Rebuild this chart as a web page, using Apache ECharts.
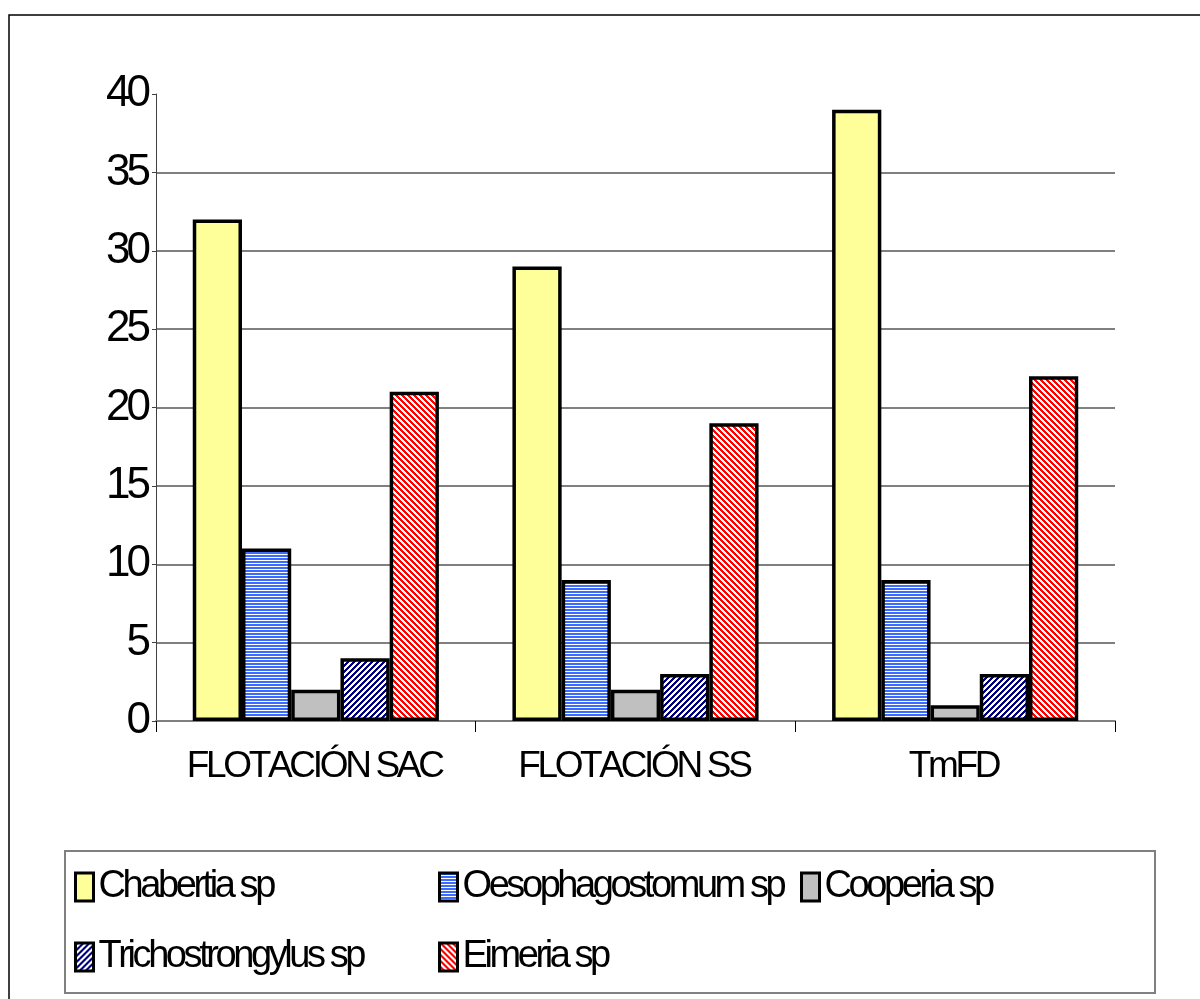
<!DOCTYPE html>
<html>
<head>
<meta charset="utf-8">
<script src="https://cdn.jsdelivr.net/npm/echarts@6/dist/echarts.min.js"></script>
<style>
html,body{margin:0;padding:0;background:#fff;}
#chart{width:1200px;height:999px;}
</style>
</head>
<body>
<div id="chart"></div>
<script>
const categories = ['FLOTACIÓN SAC', 'FLOTACIÓN SS', 'TmFD'];
const seriesNames = ['Chabertia sp', 'Oesophagostomum sp', 'Cooperia sp', 'Trichostrongylus sp', 'Eimeria sp'];
const chabertia = [32, 29, 39];
const oesophagostomum = [11, 9, 9];
const cooperia = [2, 2, 1];
const trichostrongylus = [4, 3, 3];
const eimeria = [21, 19, 22];
const yTicks = [0, 5, 10, 15, 20, 25, 30, 35, 40];

// Tight letter tracking like the original (applies to large text only)
(function () {
  const proto = CanvasRenderingContext2D.prototype;
  const origMeasure = proto.measureText;
  const origFill = proto.fillText;
  function track(ctx) {
    const m = /(\d+(?:\.\d+)?)px/.exec(ctx.font);
    const s = m ? parseFloat(m[1]) : 12;
    return s >= 20 ? -0.09 * s : 0;
  }
  function charWidths(ctx, chars) {
    return chars.map(c => origMeasure.call(ctx, c).width);
  }
  proto.measureText = function (text) {
    const sp = track(this);
    const m = origMeasure.call(this, text);
    const chars = Array.from(String(text));
    if (!sp || chars.length < 2) return m;
    const ws = charWidths(this, chars);
    const w = ws.reduce((a, b) => a + b, 0) + (chars.length - 1) * sp;
    return {
      width: w,
      actualBoundingBoxAscent: m.actualBoundingBoxAscent,
      actualBoundingBoxDescent: m.actualBoundingBoxDescent,
      actualBoundingBoxLeft: m.actualBoundingBoxLeft,
      actualBoundingBoxRight: w,
      fontBoundingBoxAscent: m.fontBoundingBoxAscent,
      fontBoundingBoxDescent: m.fontBoundingBoxDescent
    };
  };
  proto.fillText = function (text, x, y, maxW) {
    const sp = track(this);
    const chars = Array.from(String(text));
    if (!sp || chars.length < 2) return origFill.call(this, text, x, y);
    const ws = charWidths(this, chars);
    const W = ws.reduce((a, b) => a + b, 0) + (chars.length - 1) * sp;
    const align = this.textAlign;
    let sx = x;
    if (align === 'center') sx = x - W / 2;
    else if (align === 'right' || align === 'end') sx = x - W;
    this.textAlign = 'left';
    let cx = sx;
    for (let i = 0; i < chars.length; i++) {
      origFill.call(this, chars[i], cx, y);
      cx += ws[i] + sp;
    }
    this.textAlign = align;
  };
})();

function makePattern(w, h, fn) {
  const c = document.createElement('canvas');
  c.width = w; c.height = h;
  const ctx = c.getContext('2d');
  const img = ctx.createImageData(w, h);
  for (let y = 0; y < h; y++) {
    for (let x = 0; x < w; x++) {
      const col = fn(x, y);
      const i = (y * w + x) * 4;
      img.data[i] = col[0]; img.data[i + 1] = col[1]; img.data[i + 2] = col[2]; img.data[i + 3] = 255;
    }
  }
  ctx.putImageData(img, 0, 0);
  return c;
}
const WHITE = [255, 255, 255];
const bluePat = makePattern(3, 3, (x, y) => (y % 3 < 2 ? [61, 107, 255] : WHITE));
const navyPat = makePattern(6, 6, (x, y) => ((x + y) % 6 < 3 ? [0, 0, 128] : WHITE));
const redPat = makePattern(6, 6, (x, y) => ((x - y + 60) % 6 < 3 ? [255, 0, 0] : WHITE));

const fills = [
  '#FFFF99',
  { image: bluePat, repeat: 'repeat' },
  '#C0C0C0',
  { image: navyPat, repeat: 'repeat' },
  { image: redPat, repeat: 'repeat' }
];
const values = [chabertia, oesophagostomum, cooperia, trichostrongylus, eimeria];

const FONT = '"Liberation Sans", Arial, sans-serif';

const series = seriesNames.map((name, i) => ({
  name: name,
  type: 'bar',
  data: values[i],
  barGap: 0,
  barCategoryGap: '23%',
  itemStyle: { color: fills[i], borderColor: '#000', borderWidth: 3.5 },
  emphasis: { disabled: true },
  animation: false
}));

const legendPos = [
  { left: 74, top: 868 },
  { left: 438, top: 868 },
  { left: 800, top: 868 },
  { left: 74, top: 938 },
  { left: 438, top: 938 }
];
const legends = seriesNames.map((name, i) => ({
  data: [name],
  left: legendPos[i].left,
  top: legendPos[i].top,
  orient: 'horizontal',
  padding: 0,
  icon: 'rect',
  itemWidth: 18,
  itemHeight: 28,
  itemStyle: { borderColor: '#000', borderWidth: 3 },
  selectedMode: false,
  textStyle: { fontSize: 38, fontFamily: FONT, color: '#000' }
}));

const splitColors = yTicks.map(v => (v === 40 ? 'rgba(0,0,0,0)' : '#808080'));

const option = {
  backgroundColor: '#fff',
  animation: false,
  grid: { left: 156, right: 85, top: 94, bottom: 278, containLabel: false },
  xAxis: {
    type: 'category',
    data: categories,
    axisLine: { show: true, lineStyle: { color: '#808080', width: 2 } },
    axisTick: { show: true, length: 11, lineStyle: { color: '#000', width: 1 } },
    axisLabel: { interval: 0, fontSize: 37, fontFamily: FONT, color: '#000', margin: 27 }
  },
  yAxis: {
    type: 'value',
    min: 0,
    max: 40,
    interval: 5,
    axisLine: { show: true, lineStyle: { color: '#404040', width: 1 } },
    axisTick: { show: true, length: 4, lineStyle: { color: '#404040', width: 1 } },
    axisLabel: { fontSize: 44, fontFamily: FONT, color: '#000', margin: 5 },
    splitLine: { show: true, lineStyle: { color: splitColors, width: 2 } }
  },
  legend: legends,
  graphic: [
    { type: 'rect', z: -1, shape: { x: 9, y: 15, width: 1300, height: 1100 }, style: { fill: 'none', stroke: '#000', lineWidth: 1.5 } },
    { type: 'rect', z: -1, shape: { x: 65, y: 851, width: 1090, height: 142 }, style: { fill: 'none', stroke: '#808080', lineWidth: 2 } }
  ],
  series: series
};

const chart = echarts.init(document.getElementById('chart'), null, { renderer: 'canvas' });
chart.setOption(option);
</script>
</body>
</html>
